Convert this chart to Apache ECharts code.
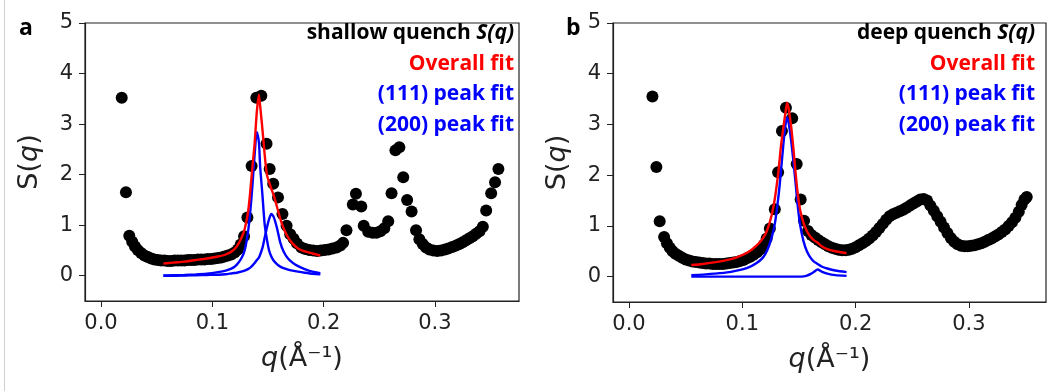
<!DOCTYPE html>
<html><head><meta charset="utf-8">
<script src="https://cdn.jsdelivr.net/npm/echarts@6/dist/echarts.min.js"></script>
<style>html,body{margin:0;padding:0;background:#fff}#c{width:1055px;height:391px}</style>
</head><body><div id="c"></div><script>
// ---- panel a : shallow quench S(q) data ----
const shallowQ = [0.0186,0.0224,0.0254,0.0280,0.0305,0.0330,0.0360,0.0390,0.0420,0.0450,0.0480,0.0510,0.0540,0.0570,0.0600,0.0630,0.0660,0.0690,0.0720,0.0750,0.0780,0.0810,0.0840,0.0870,0.0900,0.0930,0.0960,0.0990,0.1020,0.1050,0.1080,0.1110,0.1140,0.1170,0.1200,0.1230,0.1255,0.1285,0.1315,0.1353,0.1395,0.1440,0.1487,0.1515,0.1547,0.1590,0.1630,0.1667,0.1700,0.1730,0.1760,0.1800,0.1835,0.1870,0.1906,0.1940,0.1975,0.2010,0.2045,0.2080,0.2116,0.2150,0.2175,0.2205,0.2262,0.2290,0.2338,0.2360,0.2400,0.2440,0.2475,0.2510,0.2545,0.2580,0.2610,0.2645,0.2680,0.2715,0.2750,0.2790,0.2830,0.2860,0.2890,0.2920,0.2950,0.2985,0.3020,0.3055,0.3090,0.3120,0.3155,0.3190,0.3220,0.3250,0.3280,0.3310,0.3340,0.3370,0.3400,0.3430,0.3460,0.3505,0.3540,0.3570];
const shallowS = [3.52,1.65,0.79,0.67,0.58,0.51,0.45,0.40,0.37,0.34,0.32,0.31,0.30,0.30,0.29,0.29,0.30,0.30,0.30,0.30,0.31,0.31,0.31,0.32,0.32,0.32,0.33,0.33,0.34,0.35,0.36,0.38,0.40,0.42,0.46,0.52,0.62,0.78,1.15,2.17,3.52,3.56,2.61,2.11,1.82,1.55,1.22,0.99,0.82,0.73,0.64,0.56,0.53,0.51,0.50,0.49,0.50,0.51,0.52,0.54,0.56,0.60,0.65,0.90,1.41,1.62,1.37,0.99,0.87,0.85,0.85,0.88,0.94,1.08,1.63,2.48,2.54,1.95,1.50,1.27,0.90,0.72,0.63,0.56,0.52,0.50,0.49,0.50,0.52,0.54,0.57,0.60,0.63,0.66,0.70,0.74,0.78,0.83,0.88,0.97,1.29,1.63,1.85,2.11];
// panel a fits
const shallowFitQ = [0.056,0.065,0.075,0.085,0.095,0.105,0.112,0.118,0.122,0.126,0.129,0.132,0.134,0.136,0.138,0.140,0.1418,0.143,0.145,0.147,0.149,0.151,0.153,0.155,0.158,0.161,0.164,0.168,0.172,0.177,0.183,0.190,0.197];
const shallowOverall = [0.24,0.26,0.28,0.31,0.34,0.38,0.42,0.49,0.58,0.74,0.92,1.25,1.65,2.15,2.62,3.25,3.58,3.35,2.90,2.40,2.00,1.85,1.72,1.60,1.37,1.13,0.94,0.76,0.64,0.54,0.48,0.44,0.40];
const shallow111 = [0.005,0.01,0.015,0.025,0.04,0.07,0.10,0.15,0.22,0.34,0.50,0.86,1.25,1.78,2.40,2.84,2.65,2.15,1.60,1.02,0.72,0.50,0.38,0.30,0.23,0.18,0.15,0.12,0.10,0.08,0.06,0.04,0.03];
const shallow200 = [0.0,0.0,0.005,0.01,0.015,0.02,0.03,0.05,0.06,0.08,0.10,0.13,0.16,0.20,0.25,0.31,0.36,0.42,0.55,0.75,0.95,1.12,1.22,1.17,0.95,0.66,0.48,0.34,0.26,0.19,0.13,0.08,0.05];

// ---- panel b : deep quench S(q) data ----
const deepQ = [0.0207,0.0242,0.0271,0.0310,0.0335,0.0360,0.0385,0.0410,0.0440,0.0470,0.0500,0.0530,0.0560,0.0590,0.0620,0.0650,0.0680,0.0710,0.0740,0.0770,0.0800,0.0830,0.0860,0.0890,0.0920,0.0950,0.0980,0.1010,0.1040,0.1070,0.1100,0.1130,0.1160,0.1190,0.1215,0.1243,0.1287,0.1316,0.1350,0.1385,0.1440,0.1480,0.1515,0.1545,0.1580,0.1610,0.1640,0.1670,0.1700,0.1730,0.1760,0.1790,0.1820,0.1850,0.1880,0.1910,0.1940,0.1970,0.2000,0.2030,0.2060,0.2090,0.2120,0.2150,0.2180,0.2210,0.2240,0.2270,0.2300,0.2330,0.2360,0.2390,0.2420,0.2450,0.2480,0.2510,0.2540,0.2570,0.2600,0.2630,0.2660,0.2690,0.2720,0.2750,0.2780,0.2810,0.2840,0.2870,0.2900,0.2930,0.2960,0.2990,0.3020,0.3050,0.3080,0.3110,0.3140,0.3170,0.3200,0.3230,0.3260,0.3290,0.3320,0.3350,0.3380,0.3410,0.3440,0.3465,0.3490,0.3510];
const deepS = [3.55,2.16,1.09,0.78,0.66,0.57,0.50,0.45,0.41,0.37,0.34,0.32,0.30,0.29,0.28,0.27,0.26,0.26,0.25,0.25,0.25,0.25,0.26,0.27,0.28,0.29,0.31,0.33,0.36,0.39,0.43,0.48,0.54,0.63,0.75,0.95,1.33,2.06,2.87,3.33,3.12,2.22,1.52,1.10,0.90,0.82,0.77,0.72,0.68,0.64,0.60,0.57,0.55,0.53,0.52,0.52,0.53,0.55,0.58,0.62,0.66,0.70,0.75,0.81,0.88,0.96,1.04,1.12,1.19,1.23,1.26,1.29,1.32,1.36,1.40,1.44,1.48,1.52,1.53,1.50,1.40,1.30,1.19,1.08,0.97,0.86,0.76,0.69,0.64,0.61,0.60,0.60,0.61,0.62,0.64,0.66,0.69,0.72,0.75,0.79,0.83,0.88,0.93,1.00,1.07,1.16,1.28,1.41,1.52,1.57];
// panel b fits
const deepFitQ = [0.055,0.065,0.075,0.085,0.095,0.105,0.112,0.118,0.122,0.126,0.129,0.132,0.134,0.136,0.138,0.1396,0.141,0.143,0.145,0.147,0.149,0.151,0.154,0.157,0.160,0.163,0.1665,0.170,0.175,0.182,0.192];
const deepOverall = [0.23,0.25,0.28,0.32,0.38,0.48,0.60,0.75,0.92,1.22,1.58,2.10,2.55,2.90,3.22,3.43,3.30,2.98,2.55,2.05,1.62,1.32,1.06,0.90,0.79,0.72,0.67,0.60,0.54,0.50,0.46];
const deep111 = [0.03,0.04,0.06,0.08,0.12,0.18,0.26,0.37,0.52,0.78,1.08,1.60,2.05,2.55,2.98,3.14,3.02,2.70,2.30,1.85,1.38,1.02,0.70,0.50,0.38,0.30,0.25,0.20,0.16,0.12,0.09];
const deep200 = [0.0,0.0,0.0,0.0,0.0,0.0,0.0,0.0,0.0,0.0,0.0,0.0,0.0,0.0,0.0,0.0,0.0,0.0,0.0,0.0,0.0,0.0,0.005,0.02,0.05,0.09,0.14,0.10,0.06,0.03,0.015];

const yTicks = [0,1,2,3,4,5];
const xTicks = [0,0.1,0.2,0.3];
const legendA = ['shallow quench ', 'S(q)', 'Overall fit', '(111) peak fit', '(200) peak fit'];
const legendB = ['deep quench ', 'S(q)', 'Overall fit', '(111) peak fit', '(200) peak fit'];
const panelLabels = ['a', 'b'];

const zip = (a, b) => a.map((v, i) => [v, b[i]]);
const tickFont = {fontFamily: 'DejaVu Sans', fontSize: 21, color: '#222'};
const nameRich = {
  i: {fontFamily: 'DejaVu Sans', fontStyle: 'italic', fontSize: 27, color: '#222'},
  n: {fontFamily: 'DejaVu Sans', fontSize: 27, color: '#222'}
};

function xAxisCfg(gi, min, max) {
  return {
    type: 'value', gridIndex: gi, min: min, max: max,
    name: '{i|q}{n|(Å⁻¹)}', nameLocation: 'middle', nameGap: 44,
    nameTextStyle: {rich: nameRich},
    axisLine: {show: true, onZero: false, lineStyle: {color: '#222', width: 1.2}},
    axisTick: {show: true, inside: false, length: 6, customValues: xTicks, lineStyle: {color: '#222', width: 1}},
    axisLabel: Object.assign({customValues: xTicks, margin: 12, formatter: v => v.toFixed(1)}, tickFont),
    splitLine: {show: false}
  };
}
function yAxisCfg(gi) {
  return {
    type: 'value', gridIndex: gi, min: -0.5, max: 5,
    name: '{n|S(}{i|q}{n|)}', nameLocation: 'middle', nameGap: 42, nameRotate: 90,
    nameTextStyle: {rich: nameRich},
    axisLine: {show: true, onZero: false, lineStyle: {color: '#222', width: 1.2}},
    axisTick: {show: true, inside: false, length: 6, customValues: yTicks, lineStyle: {color: '#222', width: 1}},
    axisLabel: Object.assign({customValues: yTicks, margin: 12, formatter: v => String(v)}, tickFont),
    splitLine: {show: false}
  };
}
function dots(gi, q, s) {
  return {type: 'scatter', xAxisIndex: gi, yAxisIndex: gi, data: zip(q, s), symbolSize: 12,
    itemStyle: {color: '#000', opacity: 1}, z: 2, silent: true};
}
function fit(gi, q, s, color) {
  return {type: 'line', xAxisIndex: gi, yAxisIndex: gi, data: zip(q, s), showSymbol: false, symbol: 'none',
    smooth: 0.25, lineStyle: {color: color, width: 2.4}, z: 3, silent: true};
}
const legFont = 'Open Sans';
function legend(x, texts) {
  const ys = [33, 64, 94, 125];
  const base = {fontFamily: legFont, fontWeight: 'bold', fontSize: 21};
  return [
    {type: 'text', x: x, y: ys[0], style: {text: '{a|' + texts[0] + '}{b|' + texts[1] + '}', align: 'right', verticalAlign: 'middle',
      rich: {a: Object.assign({fill: '#000'}, base), b: Object.assign({fill: '#000', fontStyle: 'italic'}, base)}}},
    {type: 'text', x: x, y: ys[1], style: Object.assign({text: texts[2], align: 'right', verticalAlign: 'middle', fill: '#ff0000'}, base)},
    {type: 'text', x: x, y: ys[2], style: Object.assign({text: texts[3], align: 'right', verticalAlign: 'middle', fill: '#0000ff'}, base)},
    {type: 'text', x: x, y: ys[3], style: Object.assign({text: texts[4], align: 'right', verticalAlign: 'middle', fill: '#0000ff'}, base)}
  ];
}

const chart = echarts.init(document.getElementById('c'), null, {renderer: 'canvas'});
chart.setOption({
  backgroundColor: '#fff',
  animation: false,
  grid: [
    {left: 85, top: 23, width: 434, height: 278, show: true, borderColor: '#222', borderWidth: 1.2, backgroundColor: 'transparent'},
    {left: 613, top: 23, width: 433, height: 279, show: true, borderColor: '#222', borderWidth: 1.2, backgroundColor: 'transparent'}
  ],
  xAxis: [xAxisCfg(0, -0.0144, 0.3755), xAxisCfg(1, -0.0141, 0.368)],
  yAxis: [yAxisCfg(0), yAxisCfg(1)],
  series: [
    dots(0, shallowQ, shallowS),
    fit(0, shallowFitQ, shallow111, '#0000ff'),
    fit(0, shallowFitQ, shallow200, '#0000ff'),
    fit(0, shallowFitQ, shallowOverall, '#ff0000'),
    dots(1, deepQ, deepS),
    fit(1, deepFitQ, deep111, '#0000ff'),
    fit(1, deepFitQ, deep200, '#0000ff'),
    fit(1, deepFitQ, deepOverall, '#ff0000')
  ],
  graphic: [
    {type: 'line', shape: {x1: 4.5, y1: 0, x2: 4.5, y2: 391}, style: {stroke: '#d0d0d0', lineWidth: 1}},
    {type: 'text', x: 19, y: 28, style: {text: panelLabels[0], verticalAlign: 'middle', fontFamily: legFont, fontWeight: 'bold', fontSize: 23, fill: '#000'}},
    {type: 'text', x: 566, y: 28, style: {text: panelLabels[1], verticalAlign: 'middle', fontFamily: legFont, fontWeight: 'bold', fontSize: 23, fill: '#000'}}
  ].concat(legend(514, legendA), legend(1035, legendB))
});
</script></body></html>
